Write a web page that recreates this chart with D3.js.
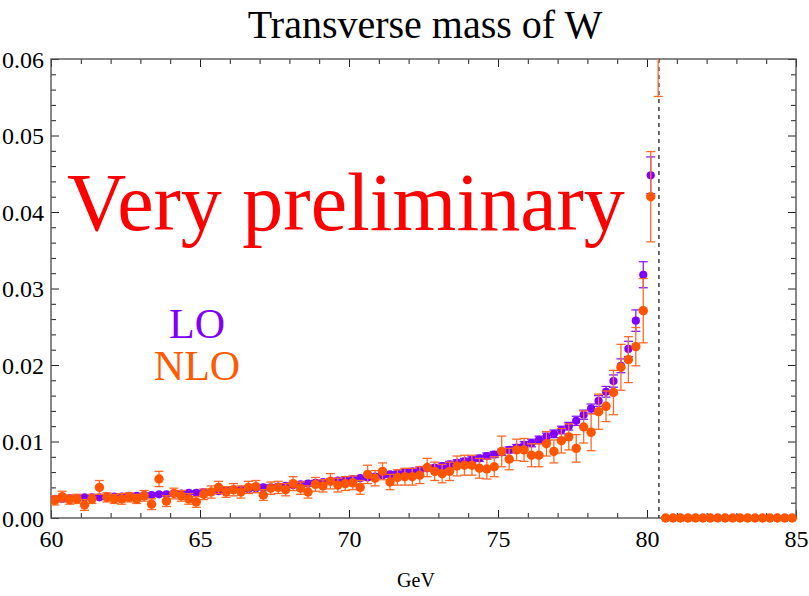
<!DOCTYPE html>
<html>
<head>
<meta charset="utf-8">
<script src="https://cdn.jsdelivr.net/npm/d3@7"></script>
<style>
  body { margin: 0; background: #fff; }
  text { font-family: "Liberation Serif", "DejaVu Serif", serif; }
</style>
</head>
<body>
<script>
// bin centres, 0.25 GeV wide, 60 .. 85 GeV
const binStart = 60.125, binWidth = 0.25, nBins = 100;
const binCenters = d3.range(nBins).map(i => binStart + i * binWidth);

// LO (purple) values, bins 0..81 (the rest are zero)
const loValues = [
  0.0025, 0.0025, 0.0026, 0.0026, 0.0027, 0.0027, 0.0027, 0.0028, 0.0028, 0.0028,
  0.0029, 0.0029, 0.0030, 0.0030, 0.0031, 0.0031, 0.0032, 0.0032, 0.0033, 0.0033,
  0.0034, 0.0034, 0.0035, 0.0036, 0.0037, 0.0037, 0.0038, 0.0039, 0.0040, 0.0040,
  0.0041, 0.0042, 0.0043, 0.0044, 0.0045, 0.0046, 0.0047, 0.0048, 0.0049, 0.0050,
  0.0051, 0.0052, 0.0053, 0.0054, 0.0056, 0.0057, 0.0058, 0.0060, 0.0061, 0.0063,
  0.0065, 0.0066, 0.0068, 0.0070, 0.0072, 0.0074, 0.0076, 0.0078, 0.0081, 0.0083,
  0.0086, 0.0089, 0.0092, 0.0095, 0.0098, 0.0102, 0.0106, 0.0110, 0.0115, 0.0120,
  0.0127, 0.0135, 0.0143, 0.0153, 0.0165, 0.0179, 0.0199, 0.0221, 0.0258, 0.0318,
  0.0448, 0.0850
];
const loErrors = [
  0.0002, 0.0002, 0.0002, 0.0002, 0.0002, 0.0002, 0.0002, 0.0002, 0.0002, 0.0002,
  0.0002, 0.0002, 0.0002, 0.0002, 0.0002, 0.0002, 0.0002, 0.0002, 0.0002, 0.0002,
  0.0002, 0.0002, 0.0002, 0.0002, 0.0002, 0.0002, 0.0002, 0.0002, 0.0003, 0.0003,
  0.0003, 0.0003, 0.0003, 0.0003, 0.0003, 0.0003, 0.0003, 0.0003, 0.0003, 0.0003,
  0.0003, 0.0003, 0.0003, 0.0003, 0.0003, 0.0003, 0.0003, 0.0003, 0.0003, 0.0003,
  0.0003, 0.0003, 0.0004, 0.0004, 0.0004, 0.0004, 0.0004, 0.0004, 0.0004, 0.0004,
  0.0004, 0.0004, 0.0004, 0.0005, 0.0005, 0.0005, 0.0005, 0.0005, 0.0005, 0.0005,
  0.0006, 0.0006, 0.0006, 0.0007, 0.0007, 0.0008, 0.0009, 0.0010, 0.0014, 0.0017,
  0.0024, 0.0040
];

// NLO (orange) values, bins 0..81
const nloValues = [
  0.0023, 0.0028, 0.0024, 0.0025, 0.0017, 0.0025, 0.0040, 0.0027, 0.0025, 0.0025,
  0.0027, 0.0025, 0.0029, 0.0018, 0.0051, 0.0022, 0.0032, 0.0029, 0.0025, 0.0021,
  0.0031, 0.0034, 0.0040, 0.0034, 0.0037, 0.0034, 0.0040, 0.0041, 0.0030, 0.0039,
  0.0040, 0.0037, 0.0045, 0.0039, 0.0034, 0.0044, 0.0042, 0.0048, 0.0043, 0.0045,
  0.0046, 0.0040, 0.0057, 0.0052, 0.0061, 0.0047, 0.0053, 0.0054, 0.0054, 0.0056,
  0.0066, 0.0061, 0.0058, 0.0061, 0.0068, 0.0069, 0.0069, 0.0065, 0.0064, 0.0067,
  0.0087, 0.0077, 0.0089, 0.0089, 0.0082, 0.0082, 0.0097, 0.0087, 0.0101, 0.0106,
  0.0091, 0.0119, 0.0112, 0.0139, 0.0146, 0.0164, 0.0197, 0.0207, 0.0224, 0.0271,
  0.0420, 0.0700
];
const nloErrors = [
  0.0006, 0.0007, 0.0006, 0.0006, 0.0007, 0.0006, 0.0009, 0.0006, 0.0006, 0.0007,
  0.0006, 0.0006, 0.0007, 0.0007, 0.0010, 0.0007, 0.0007, 0.0007, 0.0007, 0.0007,
  0.0007, 0.0008, 0.0008, 0.0007, 0.0008, 0.0008, 0.0008, 0.0008, 0.0007, 0.0008,
  0.0008, 0.0008, 0.0009, 0.0008, 0.0008, 0.0009, 0.0008, 0.0010, 0.0009, 0.0009,
  0.0009, 0.0009, 0.0012, 0.0010, 0.0011, 0.0010, 0.0010, 0.0011, 0.0011, 0.0011,
  0.0012, 0.0012, 0.0012, 0.0012, 0.0013, 0.0013, 0.0013, 0.0013, 0.0013, 0.0013,
  0.0020, 0.0014, 0.0014, 0.0015, 0.0015, 0.0015, 0.0016, 0.0015, 0.0016, 0.0017,
  0.0018, 0.0021, 0.0024, 0.0023, 0.0020, 0.0029, 0.0030, 0.0030, 0.0025, 0.0042,
  0.0059, 0.0149
];

const xMajorTicks = [60, 65, 70, 75, 80, 85];
const yMajorTicks = [0, 0.01, 0.02, 0.03, 0.04, 0.05, 0.06];
const wMass = 80.4;

const W = 809, H = 596;
const mLeft = 51, mRight = 796, mTop = 59, mBottom = 518;

const svg = d3.select("body").append("svg").attr("width", W).attr("height", H);

const x = d3.scaleLinear().domain([60, 85]).range([mLeft, mRight]);
const y = d3.scaleLinear().domain([0, 0.06]).range([mBottom, mTop]);

function series(vals, errs) {
  return binCenters.map((m, i) => ({
    m: m,
    v: i < vals.length ? vals[i] : 0,
    e: i < errs.length ? errs[i] : 0
  }));
}
const lo = series(loValues, loErrors);
const nlo = series(nloValues, nloErrors);

svg.append("clipPath").attr("id", "plotclip")
  .append("rect").attr("x", mLeft).attr("y", mTop - 1)
  .attr("width", mRight - mLeft + 6).attr("height", mBottom - mTop + 8);

// title
svg.append("text").attr("x", 425).attr("y", 38).attr("text-anchor", "middle")
  .attr("font-size", 40).text("Transverse mass of W");

// axes with inward ticks
function tickAxis(axisFn, scale, values, size, fmt, tx, ty) {
  const a = axisFn(scale).tickValues(values).tickSize(size).tickPadding(6);
  if (fmt) a.tickFormat(fmt); else a.tickFormat("");
  const g = svg.append("g").attr("transform", `translate(${tx},${ty})`).call(a);
  g.select(".domain").remove();
  g.selectAll(".tick line").attr("stroke", "#222").attr("stroke-width", 1);
  g.selectAll("text").attr("font-size", 24).attr("fill", "#000")
    .attr("font-family", "Liberation Serif, serif");
  return g;
}
const xMinor = d3.range(60, 85.01, 1).filter(v => v % 5 !== 0);
const yMinor = d3.range(0, 0.0601, 0.002).filter(v => Math.abs(v * 100 - Math.round(v * 100)) > 1e-6);

tickAxis(d3.axisBottom, x, xMajorTicks, -8, d3.format("d"), 0, mBottom)
  .selectAll("text").attr("dy", "0.95em");
tickAxis(d3.axisBottom, x, xMinor, -5, null, 0, mBottom);
tickAxis(d3.axisTop, x, xMajorTicks, -8, null, 0, mTop);
tickAxis(d3.axisTop, x, xMinor, -5, null, 0, mTop);
tickAxis(d3.axisLeft, y, yMajorTicks, -8, d3.format(".2f"), mLeft, 0)
  .selectAll("text").attr("dy", "0.35em").attr("x", -7);
tickAxis(d3.axisLeft, y, yMinor, -5, null, mLeft, 0);
tickAxis(d3.axisRight, y, yMajorTicks, -8, null, mRight, 0);
tickAxis(d3.axisRight, y, yMinor, -5, null, mRight, 0);

// frame
svg.append("rect").attr("x", mLeft).attr("y", mTop)
  .attr("width", mRight - mLeft).attr("height", mBottom - mTop)
  .attr("fill", "none").attr("stroke", "#555").attr("stroke-width", 1.4);

// x label
svg.append("text").attr("x", 416).attr("y", 587).attr("text-anchor", "middle")
  .attr("font-size", 20).text("GeV");

// watermark and legend
svg.append("text").attr("x", 67).attr("y", 230).attr("font-size", 82)
  .attr("fill", "#ff0000").text("Very preliminary");
svg.append("text").attr("x", 197).attr("y", 338).attr("text-anchor", "middle")
  .attr("font-size", 42).attr("fill", "#8000ff").text("LO");
svg.append("text").attr("x", 197).attr("y", 380).attr("text-anchor", "middle")
  .attr("font-size", 42).attr("fill", "#ff5a00").text("NLO");

// dashed line at W mass
svg.append("line").attr("x1", x(wMass)).attr("x2", x(wMass))
  .attr("y1", mTop).attr("y2", mBottom)
  .attr("stroke", "#333").attr("stroke-width", 1.4).attr("stroke-dasharray", "4,4");

const plot = svg.append("g").attr("clip-path", "url(#plotclip)");

function drawSeries(data, color, barColor, r) {
  const g = plot.append("g");
  const withErr = data.filter(d => d.e > 0);
  g.selectAll("line.bar").data(withErr).enter().append("line")
    .attr("x1", d => x(d.m)).attr("x2", d => x(d.m))
    .attr("y1", d => y(d.v - d.e)).attr("y2", d => y(d.v + d.e))
    .attr("stroke", barColor).attr("stroke-width", 1.3);
  [-1, 1].forEach(s => {
    g.selectAll("line.cap" + s).data(withErr).enter().append("line")
      .attr("x1", d => x(d.m) - 4.5).attr("x2", d => x(d.m) + 4.5)
      .attr("y1", d => y(d.v + s * d.e)).attr("y2", d => y(d.v + s * d.e))
      .attr("stroke", barColor).attr("stroke-width", 1.3);
  });
  g.selectAll("circle").data(data).enter().append("circle")
    .attr("cx", d => x(d.m)).attr("cy", d => y(d.v)).attr("r", r)
    .attr("fill", color);
}
drawSeries(lo, "#8000ff", "#8a1aff", 4.1);
drawSeries(nlo, "#ff5500", "#ff6a2a", 4.7);
</script>
</body>
</html>
